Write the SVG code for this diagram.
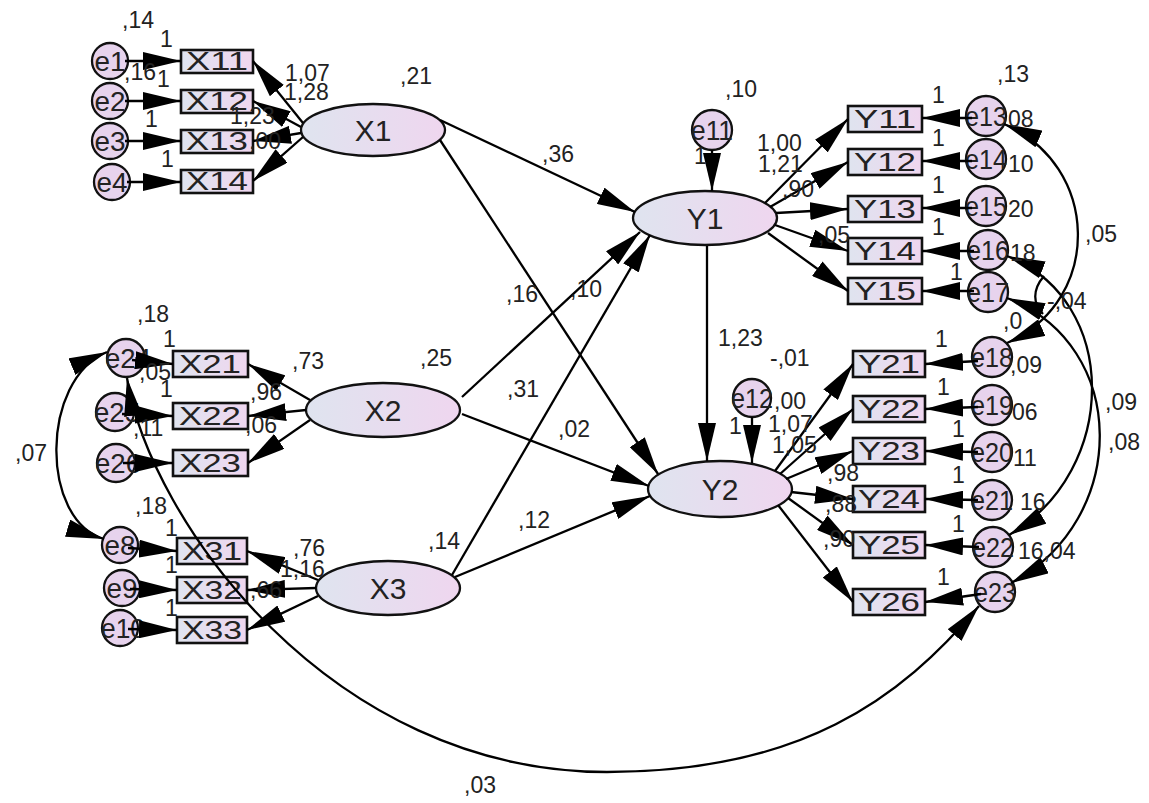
<svg xmlns="http://www.w3.org/2000/svg" width="1149" height="803" viewBox="0 0 1149 803">
<defs>
<linearGradient id="g" x1="0" y1="0" x2="1" y2="0">
<stop offset="0" stop-color="#dfe4ef"/>
<stop offset="1" stop-color="#efd6ef"/>
</linearGradient>
<marker id="a" markerUnits="userSpaceOnUse" markerWidth="38" markerHeight="18" refX="38" refY="9" orient="auto-start-reverse" viewBox="0 0 38 18">
<path d="M0,0 L38,9 L0,18 z" fill="#000"/>
</marker>
<style>
.b{fill:url(#g);stroke:#111;stroke-width:2.6}
.o{fill:url(#g);stroke:#111;stroke-width:2.3}
.e{fill:#e7d3ed;stroke:#111;stroke-width:2.3}
text{font-family:"Liberation Sans",Arial,sans-serif;fill:#222}
.bt{font-size:25px;text-anchor:middle}
.ot{font-size:30px;text-anchor:middle}
.et{font-size:28px;text-anchor:middle}
.l text{font-size:23px}
#conn line,#conn path{stroke:#000;stroke-width:2.3;fill:none}
.ar{marker-end:url(#a)}
.cv{marker-start:url(#a);marker-end:url(#a)}
</style>
</defs>
<rect width="1149" height="803" fill="#ffffff"/>

<!-- X1 group -->
<g id="n-e1"><circle class="e" cx="110" cy="61" r="18"/><text class="et" x="110" y="71" textLength="31" lengthAdjust="spacingAndGlyphs">e1</text></g>
<g id="n-e2"><circle class="e" cx="110" cy="101" r="18"/><text class="et" x="110" y="111" textLength="31" lengthAdjust="spacingAndGlyphs">e2</text></g>
<g id="n-e3"><circle class="e" cx="110" cy="141" r="18"/><text class="et" x="110" y="151" textLength="31" lengthAdjust="spacingAndGlyphs">e3</text></g>
<g id="n-e4"><circle class="e" cx="112" cy="182" r="18"/><text class="et" x="112" y="192" textLength="31" lengthAdjust="spacingAndGlyphs">e4</text></g>
<g id="n-X11"><rect class="b" x="181" y="50" width="72" height="23"/><text class="bt" x="217" y="70" textLength="62" lengthAdjust="spacingAndGlyphs">X11</text></g>
<g id="n-X12"><rect class="b" x="181" y="90" width="72" height="23"/><text class="bt" x="217" y="110" textLength="62" lengthAdjust="spacingAndGlyphs">X12</text></g>
<g id="n-X13"><rect class="b" x="181" y="130" width="72" height="23"/><text class="bt" x="217" y="150" textLength="62" lengthAdjust="spacingAndGlyphs">X13</text></g>
<g id="n-X14"><rect class="b" x="181" y="170" width="72" height="23"/><text class="bt" x="217" y="190" textLength="62" lengthAdjust="spacingAndGlyphs">X14</text></g>
<g id="n-X1"><ellipse class="o" cx="373" cy="130" rx="72" ry="26"/><text class="ot" x="373" y="141">X1</text></g>

<!-- X2 group -->
<g id="n-e24"><circle class="e" cx="126" cy="358" r="19"/><text class="et" x="128" y="368" textLength="46" lengthAdjust="spacingAndGlyphs">e24</text></g>
<g id="n-e25"><circle class="e" cx="115" cy="412" r="19"/><text class="et" x="117" y="422" textLength="46" lengthAdjust="spacingAndGlyphs">e25</text></g>
<g id="n-e26"><circle class="e" cx="116" cy="463" r="19"/><text class="et" x="118" y="473" textLength="46" lengthAdjust="spacingAndGlyphs">e26</text></g>
<g id="n-X21"><rect class="b" x="173" y="351" width="75" height="26"/><text class="bt" x="210" y="373" textLength="62" lengthAdjust="spacingAndGlyphs">X21</text></g>
<g id="n-X22"><rect class="b" x="173" y="403" width="75" height="26"/><text class="bt" x="210" y="425" textLength="62" lengthAdjust="spacingAndGlyphs">X22</text></g>
<g id="n-X23"><rect class="b" x="173" y="450" width="75" height="26"/><text class="bt" x="210" y="472" textLength="62" lengthAdjust="spacingAndGlyphs">X23</text></g>
<g id="n-X2"><ellipse class="o" cx="383" cy="410" rx="77" ry="27"/><text class="ot" x="383" y="421">X2</text></g>

<!-- X3 group -->
<g id="n-e8"><circle class="e" cx="120" cy="545" r="18"/><text class="et" x="120" y="555" textLength="31" lengthAdjust="spacingAndGlyphs">e8</text></g>
<g id="n-e9"><circle class="e" cx="122" cy="588" r="18"/><text class="et" x="122" y="598" textLength="31" lengthAdjust="spacingAndGlyphs">e9</text></g>
<g id="n-e10"><circle class="e" cx="120" cy="628" r="18"/><text class="et" x="123" y="638" textLength="44" lengthAdjust="spacingAndGlyphs">e10</text></g>
<g id="n-X31"><rect class="b" x="177" y="538" width="70" height="26"/><text class="bt" x="212" y="560" textLength="60" lengthAdjust="spacingAndGlyphs">X31</text></g>
<g id="n-X32"><rect class="b" x="177" y="577" width="70" height="26"/><text class="bt" x="212" y="599" textLength="60" lengthAdjust="spacingAndGlyphs">X32</text></g>
<g id="n-X33"><rect class="b" x="177" y="617" width="70" height="26"/><text class="bt" x="212" y="639" textLength="60" lengthAdjust="spacingAndGlyphs">X33</text></g>
<g id="n-X3"><ellipse class="o" cx="388" cy="588" rx="72" ry="27"/><text class="ot" x="388" y="599">X3</text></g>

<!-- Y1 group -->
<g id="n-e11"><circle class="e" cx="712" cy="130" r="20"/><text class="et" x="712" y="140" textLength="42" lengthAdjust="spacingAndGlyphs">e11</text></g>
<g id="n-Y1"><ellipse class="o" cx="705" cy="218" rx="72" ry="27"/><text class="ot" x="705" y="229">Y1</text></g>
<g id="n-Y11"><rect class="b" x="848" y="106" width="74" height="26"/><text class="bt" x="885" y="128" textLength="62" lengthAdjust="spacingAndGlyphs">Y11</text></g>
<g id="n-Y12"><rect class="b" x="848" y="149" width="74" height="26"/><text class="bt" x="885" y="171" textLength="62" lengthAdjust="spacingAndGlyphs">Y12</text></g>
<g id="n-Y13"><rect class="b" x="848" y="196" width="74" height="26"/><text class="bt" x="885" y="218" textLength="62" lengthAdjust="spacingAndGlyphs">Y13</text></g>
<g id="n-Y14"><rect class="b" x="848" y="238" width="74" height="26"/><text class="bt" x="885" y="260" textLength="62" lengthAdjust="spacingAndGlyphs">Y14</text></g>
<g id="n-Y15"><rect class="b" x="848" y="278" width="74" height="26"/><text class="bt" x="885" y="300" textLength="62" lengthAdjust="spacingAndGlyphs">Y15</text></g>
<g id="n-e13"><circle class="e" cx="986" cy="116" r="20"/><text class="et" x="986" y="126" textLength="42" lengthAdjust="spacingAndGlyphs">e13</text></g>
<g id="n-e14"><circle class="e" cx="986" cy="159" r="20"/><text class="et" x="986" y="169" textLength="42" lengthAdjust="spacingAndGlyphs">e14</text></g>
<g id="n-e15"><circle class="e" cx="986" cy="206" r="20"/><text class="et" x="986" y="216" textLength="42" lengthAdjust="spacingAndGlyphs">e15</text></g>
<g id="n-e16"><circle class="e" cx="988" cy="250" r="20"/><text class="et" x="988" y="260" textLength="42" lengthAdjust="spacingAndGlyphs">e16</text></g>
<g id="n-e17"><circle class="e" cx="988" cy="292" r="20"/><text class="et" x="988" y="302" textLength="42" lengthAdjust="spacingAndGlyphs">e17</text></g>

<!-- Y2 group -->
<g id="n-e12"><circle class="e" cx="752" cy="398" r="19"/><text class="et" x="752" y="408" textLength="42" lengthAdjust="spacingAndGlyphs">e12</text></g>
<g id="n-Y2"><ellipse class="o" cx="720" cy="489" rx="72" ry="28"/><text class="ot" x="720" y="500">Y2</text></g>
<g id="n-Y21"><rect class="b" x="853" y="351" width="72" height="26"/><text class="bt" x="889" y="373" textLength="62" lengthAdjust="spacingAndGlyphs">Y21</text></g>
<g id="n-Y22"><rect class="b" x="853" y="396" width="72" height="26"/><text class="bt" x="889" y="418" textLength="62" lengthAdjust="spacingAndGlyphs">Y22</text></g>
<g id="n-Y23"><rect class="b" x="853" y="438" width="72" height="26"/><text class="bt" x="889" y="460" textLength="62" lengthAdjust="spacingAndGlyphs">Y23</text></g>
<g id="n-Y24"><rect class="b" x="853" y="486" width="72" height="26"/><text class="bt" x="889" y="508" textLength="62" lengthAdjust="spacingAndGlyphs">Y24</text></g>
<g id="n-Y25"><rect class="b" x="853" y="532" width="72" height="26"/><text class="bt" x="889" y="554" textLength="62" lengthAdjust="spacingAndGlyphs">Y25</text></g>
<g id="n-Y26"><rect class="b" x="853" y="589" width="72" height="26"/><text class="bt" x="889" y="611" textLength="62" lengthAdjust="spacingAndGlyphs">Y26</text></g>
<g id="n-e18"><circle class="e" cx="992" cy="357" r="20"/><text class="et" x="992" y="367" textLength="42" lengthAdjust="spacingAndGlyphs">e18</text></g>
<g id="n-e19"><circle class="e" cx="992" cy="405" r="20"/><text class="et" x="992" y="415" textLength="42" lengthAdjust="spacingAndGlyphs">e19</text></g>
<g id="n-e20"><circle class="e" cx="992" cy="452" r="20"/><text class="et" x="992" y="462" textLength="42" lengthAdjust="spacingAndGlyphs">e20</text></g>
<g id="n-e21"><circle class="e" cx="992" cy="500" r="20"/><text class="et" x="992" y="510" textLength="42" lengthAdjust="spacingAndGlyphs">e21</text></g>
<g id="n-e22"><circle class="e" cx="993" cy="547" r="20"/><text class="et" x="993" y="557" textLength="42" lengthAdjust="spacingAndGlyphs">e22</text></g>
<g id="n-e23"><circle class="e" cx="995" cy="592" r="20"/><text class="et" x="995" y="602" textLength="42" lengthAdjust="spacingAndGlyphs">e23</text></g>

<g id="conn">
<!-- X1 measurement -->
<line class="ar" x1="125" y1="61" x2="181" y2="61"/>
<line class="ar" x1="125" y1="101" x2="181" y2="101"/>
<line class="ar" x1="125" y1="141" x2="181" y2="141"/>
<line class="ar" x1="127" y1="182" x2="181" y2="182"/>
<line class="ar" x1="303" y1="123" x2="253" y2="61"/>
<line class="ar" x1="301" y1="127" x2="253" y2="101"/>
<line class="ar" x1="301" y1="133" x2="253" y2="141"/>
<line class="ar" x1="303" y1="137" x2="253" y2="181"/>
<!-- X2 measurement -->
<line class="ar" x1="132" y1="360" x2="173" y2="364"/>
<line class="ar" x1="122" y1="414" x2="173" y2="416"/>
<line class="ar" x1="123" y1="463" x2="173" y2="463"/>
<line class="ar" x1="310" y1="400" x2="248" y2="364"/>
<line class="ar" x1="306" y1="410" x2="248" y2="416"/>
<line class="ar" x1="310" y1="420" x2="248" y2="463"/>
<!-- X3 measurement -->
<line class="ar" x1="128" y1="548" x2="177" y2="551"/>
<line class="ar" x1="130" y1="589" x2="177" y2="590"/>
<line class="ar" x1="128" y1="629" x2="177" y2="630"/>
<line class="ar" x1="318" y1="580" x2="247" y2="551"/>
<line class="ar" x1="316" y1="588" x2="247" y2="590"/>
<line class="ar" x1="318" y1="596" x2="247" y2="630"/>
<!-- structural -->
<line class="ar" x1="440" y1="120" x2="635" y2="212"/>
<line class="ar" x1="440" y1="140" x2="658" y2="474"/>
<line class="ar" x1="462" y1="397" x2="640" y2="232"/>
<line class="ar" x1="452" y1="575" x2="650" y2="235"/>
<line class="ar" x1="462" y1="414" x2="649" y2="486"/>
<line class="ar" x1="455" y1="577" x2="650" y2="496"/>
<line class="ar" x1="707" y1="246" x2="707" y2="461"/>
<line class="ar" x1="712" y1="150" x2="712" y2="191"/>
<line class="ar" x1="752" y1="417" x2="752" y2="463"/>
<!-- Y1 measurement -->
<line class="ar" x1="765" y1="203" x2="848" y2="119"/>
<line class="ar" x1="770" y1="207" x2="848" y2="162"/>
<line class="ar" x1="776" y1="213" x2="848" y2="209"/>
<line class="ar" x1="775" y1="225" x2="848" y2="251"/>
<line class="ar" x1="768" y1="233" x2="848" y2="291"/>
<line class="ar" x1="972" y1="118" x2="922" y2="118"/>
<line class="ar" x1="972" y1="161" x2="922" y2="161"/>
<line class="ar" x1="972" y1="208" x2="922" y2="208"/>
<line class="ar" x1="974" y1="251" x2="922" y2="251"/>
<line class="ar" x1="974" y1="291" x2="922" y2="291"/>
<!-- Y2 measurement -->
<line class="ar" x1="775" y1="471" x2="853" y2="364"/>
<line class="ar" x1="780" y1="474" x2="853" y2="409"/>
<line class="ar" x1="786" y1="479" x2="853" y2="451"/>
<line class="ar" x1="791" y1="492" x2="853" y2="499"/>
<line class="ar" x1="788" y1="498" x2="853" y2="545"/>
<line class="ar" x1="778" y1="505" x2="853" y2="602"/>
<line class="ar" x1="978" y1="361" x2="925" y2="364"/>
<line class="ar" x1="978" y1="407" x2="925" y2="409"/>
<line class="ar" x1="978" y1="452" x2="925" y2="451"/>
<line class="ar" x1="978" y1="500" x2="925" y2="499"/>
<line class="ar" x1="979" y1="547" x2="925" y2="545"/>
<line class="ar" x1="981" y1="594" x2="925" y2="602"/>
<!-- covariances -->
<path class="cv" d="M107,352 C40,380 40,520 104,539"/>
<path class="cv" d="M127,378 C150,520 330,772 607,772 C800,772 900,700 979,606"/>
<path class="cv" d="M1004,124 C1100,165 1104,300 1007,343"/>
<path class="cv" d="M1007,256 C1120,300 1120,470 1009,535"/>
<path class="cv" d="M1007,298 C1130,345 1130,520 1011,583"/>
<path d="M1044,276 C1032,290 1033,304 1043,314"/>
</g>

<g id="labels" class="l">
<text x="122" y="28">,14</text>
<text x="160" y="47">1</text>
<text x="124" y="80">,16</text>
<text x="157" y="87">1</text>
<text x="145" y="127">1</text>
<text x="161" y="167">1</text>
<text x="285" y="81">1,07</text>
<text x="284" y="100">1,28</text>
<text x="230" y="124">1,23</text>
<text x="249" y="149">,00</text>
<text x="400" y="84">,21</text>

<text x="137" y="322">,18</text>
<text x="163" y="347">1</text>
<text x="139" y="380">,05</text>
<text x="160" y="397">1</text>
<text x="133" y="436">,11</text>
<text x="292" y="369">,73</text>
<text x="250" y="400">,96</text>
<text x="245" y="433">,06</text>
<text x="420" y="366">,25</text>

<text x="135" y="514">,18</text>
<text x="165" y="536">1</text>
<text x="165" y="573">1</text>
<text x="165" y="616">1</text>
<text x="293" y="556">,76</text>
<text x="280" y="577">1,16</text>
<text x="250" y="598">,66</text>
<text x="428" y="549">,14</text>

<text x="542" y="162">,36</text>
<text x="506" y="302">,16</text>
<text x="570" y="297">,10</text>
<text x="507" y="397">,31</text>
<text x="558" y="437">,02</text>
<text x="518" y="528">,12</text>
<text x="718" y="346">1,23</text>
<text x="725" y="97">,10</text>
<text x="694" y="164">1</text>
<text x="770" y="366">-,01</text>
<text x="729" y="434">1</text>
<text x="774" y="409">,00</text>
<text x="768" y="432">1,07</text>
<text x="772" y="453">1,05</text>
<text x="827" y="481">,98</text>
<text x="825" y="512">,88</text>
<text x="823" y="547">,90</text>
<text x="757" y="151">1,00</text>
<text x="758" y="172">1,21</text>
<text x="782" y="197">,90</text>
<text x="818" y="243">,05</text>

<text x="932" y="103">1</text>
<text x="932" y="146">1</text>
<text x="932" y="193">1</text>
<text x="932" y="235">1</text>
<text x="950" y="280">1</text>
<text x="997" y="82">,13</text>
<text x="1008" y="127">08</text>
<text x="1008" y="172">10</text>
<text x="1008" y="217">20</text>
<text x="1010" y="261">18</text>
<text x="1085" y="242">,05</text>
<text x="1047" y="309">-,04</text>
<text x="1003" y="329">,0</text>
<text x="935" y="347">1</text>
<text x="937" y="395">1</text>
<text x="952" y="437">1</text>
<text x="952" y="483">1</text>
<text x="952" y="532">1</text>
<text x="937" y="585">1</text>
<text x="1010" y="373">,09</text>
<text x="1012" y="420">06</text>
<text x="1013" y="466">11</text>
<text x="1020" y="510">16</text>
<text x="1018" y="559">16,04</text>
<text x="1105" y="410">,09</text>
<text x="1108" y="450">,08</text>
<text x="15" y="461">,07</text>
<text x="464" y="793">,03</text>
</g>
</svg>
